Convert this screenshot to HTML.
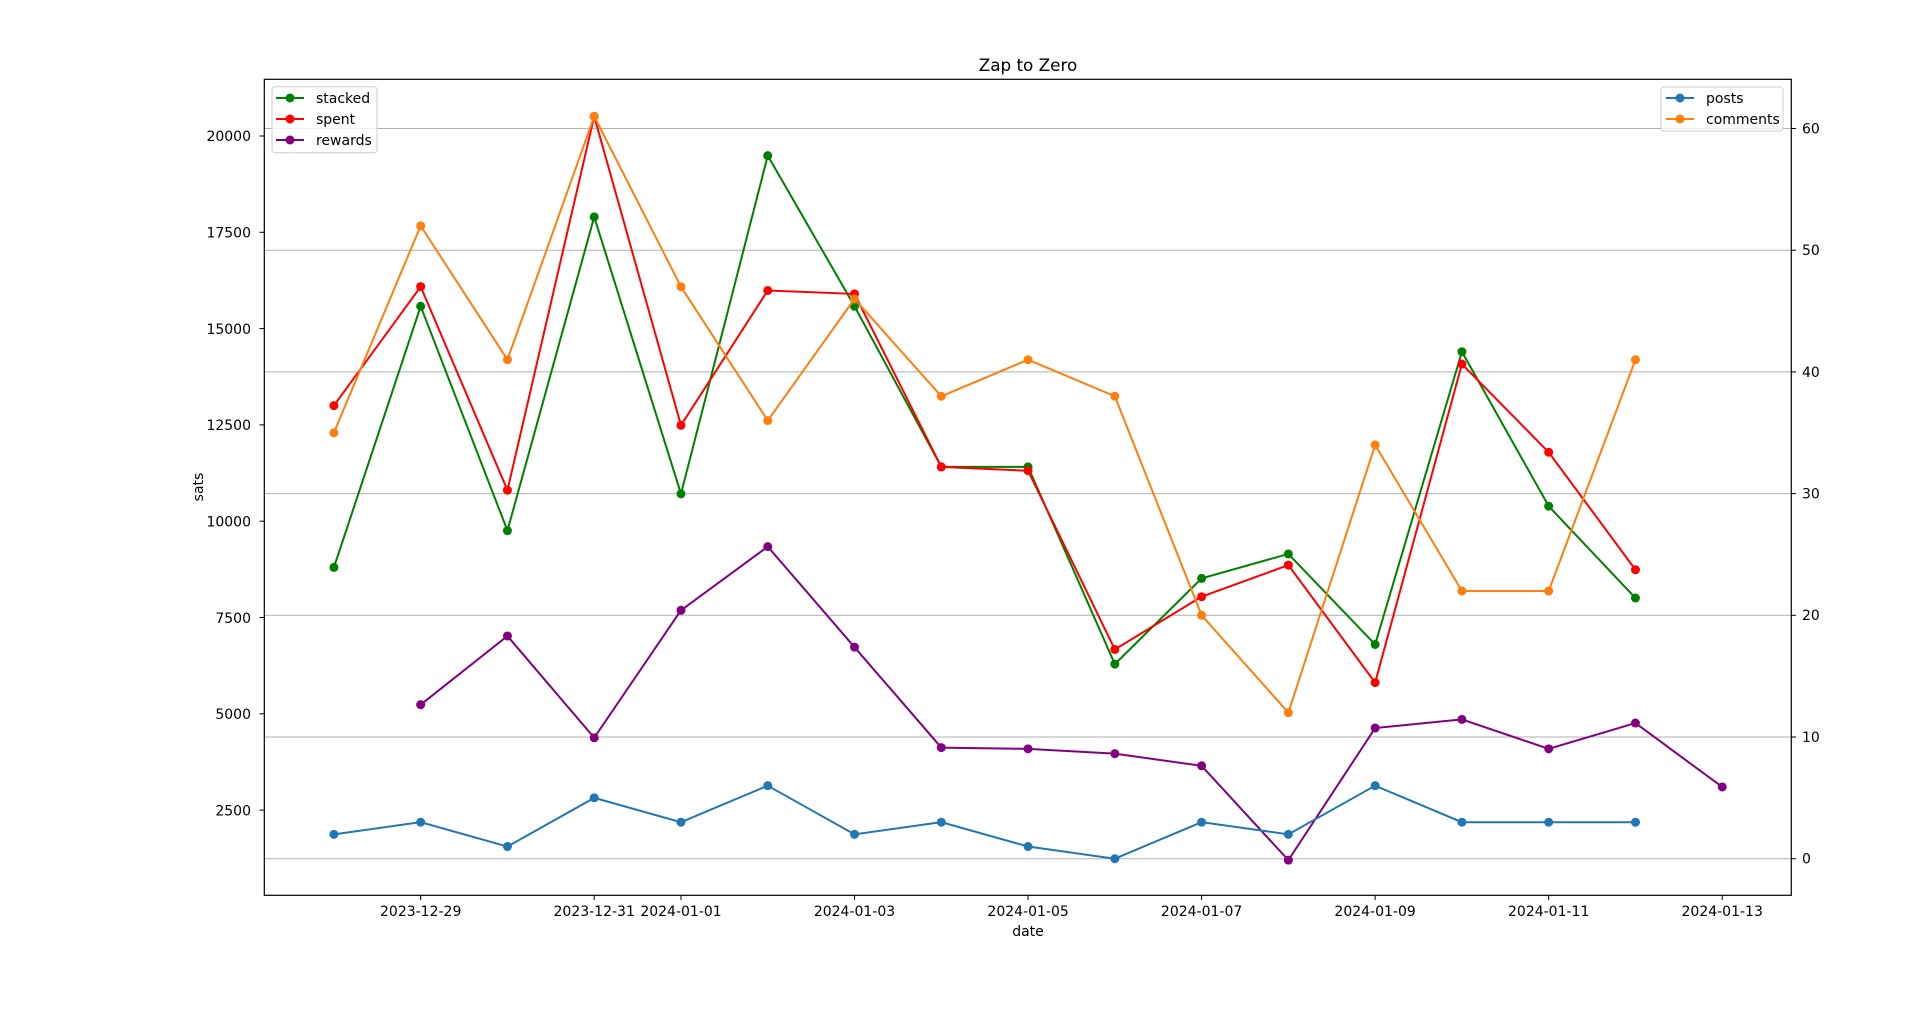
<!DOCTYPE html>
<html><head><meta charset="utf-8"><style>
body{margin:0;background:#fff;}
svg text{font-family:"DejaVu Sans","Liberation Sans",sans-serif;fill:#000;}
</style></head><body>
<svg id="s" width="1918" height="1019" xmlns="http://www.w3.org/2000/svg">
<rect width="1918" height="1019" fill="#fff"/>
<g id="grid"></g>
<g id="series"></g>
<rect x="264.3" y="79.3" width="1527" height="816" fill="none" stroke="#000" stroke-width="1.2"/>
<g id="ticks" stroke="#000" stroke-width="1"></g>
<g font-size="14" text-anchor="end">
<text x="251" y="141">20000</text><text x="251" y="237.5">17500</text><text x="251" y="334">15000</text><text x="251" y="430">12500</text><text x="251" y="526.5">10000</text><text x="251" y="623">7500</text><text x="251" y="719">5000</text><text x="251" y="815.5">2500</text>
</g>
<g font-size="14" text-anchor="start">
<text x="1802" y="863.7">0</text><text x="1802" y="742">10</text><text x="1802" y="620">20</text><text x="1802" y="498.5">30</text><text x="1802" y="377">40</text><text x="1802" y="255">50</text><text x="1802" y="133.5">60</text>
</g>
<g font-size="14" text-anchor="middle">
<text x="420.7" y="916">2023-12-29</text><text x="594.2" y="916">2023-12-31</text><text x="681" y="916">2024-01-01</text><text x="854.5" y="916">2024-01-03</text><text x="1028.1" y="916">2024-01-05</text><text x="1201.6" y="916">2024-01-07</text><text x="1375.1" y="916">2024-01-09</text><text x="1548.7" y="916">2024-01-11</text><text x="1722.2" y="916">2024-01-13</text>
<text x="1028" y="936">date</text>
<text x="1028" y="71" font-size="16.8">Zap to Zero</text>
</g>
<text x="0" y="0" font-size="14" text-anchor="middle" transform="translate(203,487) rotate(-90)">sats</text>
<g>
<rect x="272" y="86.7" width="105" height="66" rx="3" fill="#fff" fill-opacity="0.8" stroke="#ccc"/>
<line x1="276" y1="98" x2="304" y2="98" stroke="green" stroke-width="2"/><circle cx="290" cy="98" r="4.5" fill="green"/>
<line x1="276" y1="119" x2="304" y2="119" stroke="red" stroke-width="2"/><circle cx="290" cy="119" r="4.5" fill="red"/>
<line x1="276" y1="140" x2="304" y2="140" stroke="purple" stroke-width="2"/><circle cx="290" cy="140" r="4.5" fill="purple"/>
<text x="316" y="103" font-size="14">stacked</text><text x="316" y="124" font-size="14">spent</text><text x="316" y="145" font-size="14">rewards</text>
<rect x="1661" y="87" width="122" height="44" rx="3" fill="#fff" fill-opacity="0.8" stroke="#ccc"/>
<line x1="1666" y1="98" x2="1694" y2="98" stroke="#1f77b4" stroke-width="2"/><circle cx="1680" cy="98" r="4.5" fill="#1f77b4"/>
<line x1="1666" y1="119" x2="1694" y2="119" stroke="#ff7f0e" stroke-width="2"/><circle cx="1680" cy="119" r="4.5" fill="#ff7f0e"/>
<text x="1706" y="103" font-size="14">posts</text><text x="1706" y="124" font-size="14">comments</text>
</g>
</svg>
<script>
var NS="http://www.w3.org/2000/svg";
function X(d){return 333.9+d*86.77;}
function YL(v){return 136+(20000-v)*0.03852;}
function YR(c){return 858.7-c*12.17;}
var g=document.getElementById('grid'),t=document.getElementById('ticks'),s=document.getElementById('series');
function el(p,n,a){var e=document.createElementNS(NS,n);for(var k in a)e.setAttribute(k,a[k]);p.appendChild(e);return e;}
for(var c=0;c<=60;c+=10){var y=YR(c);el(g,'line',{x1:264.3,x2:1791.3,y1:y,y2:y,stroke:'#b0b0b0','stroke-width':1});el(t,'line',{x1:1791.3,x2:1796,y1:y,y2:y});}
for(var v=2500;v<=20000;v+=2500){var y=YL(v);el(t,'line',{x1:259.5,x2:264.3,y1:y,y2:y});}
[1,3,4,6,8,10,12,14,16].forEach(function(d){el(t,'line',{x1:X(d),x2:X(d),y1:895.3,y2:900});});
function ser(data,start,f,col){var pts=data.map(function(v,i){return X(start+i)+','+f(v);});
el(s,'polyline',{points:pts.join(' '),fill:'none',stroke:col,'stroke-width':2});
data.forEach(function(v,i){el(s,'circle',{cx:X(start+i),cy:f(v),r:4.5,fill:col});});}
ser([8800,15580,9755,17900,10710,19490,15580,11410,11410,6290,8515,9150,6800,14400,10390,8005],0,YL,'green');
ser([13000,16090,10805,20510,12490,15990,15900,11410,11310,6670,8040,8860,5810,14080,11790,8740],0,YL,'red');
ser([5237,7020,4378,7687,9340,6730,4123,4090,3965,3650,1200,4630,4855,4090,4760,3100],1,YL,'purple');
ser([2,3,1,5,3,6,2,3,1,0,3,2,6,3,3,3],0,YR,'#1f77b4');
ser([35,52,41,61,47,36,46,38,41,38,20,12,34,22,22,41],0,YR,'#ff7f0e');
</script>
</body></html>
